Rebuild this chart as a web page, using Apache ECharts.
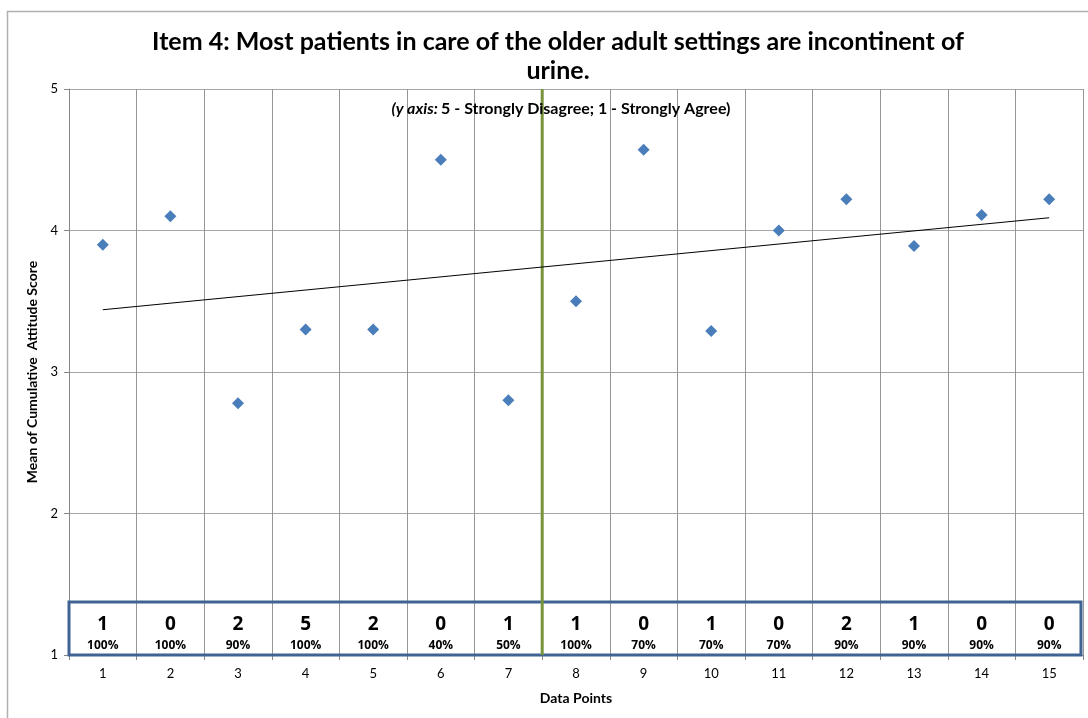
<!DOCTYPE html>
<html><head><meta charset="utf-8">
<script src="https://cdn.jsdelivr.net/npm/echarts@6/dist/echarts.min.js"></script>
<style>html,body{margin:0;padding:0;background:#fff}#c{width:1088px;height:718px}</style>
</head><body><div id="c"></div>
<script>
const categories = ['1','2','3','4','5','6','7','8','9','10','11','12','13','14','15'];
const scores = [3.90,4.10,2.78,3.30,3.30,4.50,2.80,3.50,4.57,3.29,4.00,4.22,3.89,4.11,4.22];
const counts = [1,0,2,5,2,0,1,1,0,1,0,2,1,0,0];
const percents = ['100%','100%','90%','100%','100%','40%','50%','100%','70%','70%','70%','90%','90%','90%','90%'];
const trendX = [1, 15];
const trendY = [3.44, 4.09];
const phaseChangeX = 7.5;
const boxRange = {x0: 0.5, x1: 15.47, y0: 1.0, y1: 1.375};
const countLabelY = 1.215;
const percentLabelY = 1.065;
const yTicks = [1,2,3,4,5];

const FONT = 'Lato, "Open Sans", sans-serif';
const BOXFONT = '"Open Sans", Lato, sans-serif';
const chart = echarts.init(document.getElementById('c'), null, {renderer:'canvas'});
const grid = {left:69, right:5, top:89, bottom:63};

function textItem(fontSize, yVal, getText){
  return function(params, api){
    const p = api.coord([api.value(0), yVal]);
    return {type:'text', x:p[0], y:p[1], style:{text:getText(api), fill:'#000', font:'bold '+fontSize+'px '+BOXFONT, textAlign:'center', textVerticalAlign:'middle'}};
  };
}

chart.setOption({
  animation:false,
  backgroundColor:'#fff',
  textStyle:{fontFamily:FONT},
  graphic:[
    {type:'rect', shape:{x:7.5,y:11.5,width:1090,height:720}, style:{fill:'none',stroke:'#B0B0B0',lineWidth:1.5}, silent:true},
    {type:'text', x:558, y:27, style:{text:'Item 4: Most patients in care of the older adult settings are incontinent of\nurine.', font:'bold 25px '+FONT, fill:'#000', textAlign:'center', lineHeight:29}},
    {type:'text', x:561, y:101, z:10, style:{
      text:'{bi|(y axis:} {b|5 - Strongly Disagree; 1 - Strongly Agree)}',
      textAlign:'center',
      rich:{bi:{fontFamily:FONT, fontStyle:'italic', fontWeight:'bold', fontSize:16, fill:'#000'}, b:{fontFamily:FONT, fontWeight:'bold', fontSize:16, fill:'#000'}}
    }}
  ],
  grid:grid,
  xAxis:[
    {type:'category', data:categories, boundaryGap:true, position:'bottom',
     axisLine:{show:true, lineStyle:{color:'#868686'}},
     axisTick:{show:true, inside:false, length:5, alignWithLabel:false, lineStyle:{color:'#868686'}},
     axisLabel:{color:'#000', fontSize:13, margin:12, fontFamily:FONT},
     splitLine:{show:true, lineStyle:{color:'#969696', width:1}},
     name:'Data Points', nameLocation:'middle', nameGap:36,
     nameTextStyle:{fontWeight:'bold', fontSize:14, color:'#000', fontFamily:FONT}},
    {type:'value', min:0.5, max:15.5, show:false}
  ],
  yAxis:[{
    type:'value', min:1, max:5, interval:1,
    axisLine:{show:true, lineStyle:{color:'#868686'}},
    axisTick:{show:true, length:5, lineStyle:{color:'#868686'}},
    axisLabel:{color:'#000', fontSize:13, margin:11, fontFamily:FONT, formatter:v=>yTicks.includes(v)?String(v):''},
    splitLine:{show:true, lineStyle:{color:'#a6a6a6', width:1}},
    name:'Mean of Cumulative  Attitude Score', nameLocation:'middle', nameGap:29, nameRotate:90,
    nameTextStyle:{fontWeight:'bold', fontSize:14, color:'#000', fontFamily:FONT}
  }],
  series:[
    {type:'line', xAxisIndex:1, data:[[phaseChangeX,1],[phaseChangeX,5]], symbol:'none',
     lineStyle:{color:'#77933C', width:3}, z:4, silent:true},
    {type:'line', xAxisIndex:1, data:trendX.map((x,i)=>[x,trendY[i]]), symbol:'none',
     lineStyle:{color:'#000', width:1}, z:5, silent:true},
    {type:'scatter', xAxisIndex:1, data:scores.map((v,i)=>[i+1,v]), symbol:'diamond', symbolSize:12,
     itemStyle:{color:'#4A7EBB', opacity:1}, z:6},
    {type:'scatter', xAxisIndex:1, data:[], z:7,
     markArea:{silent:true, itemStyle:{color:'rgba(0,0,0,0)', borderColor:'#3F6494', borderWidth:3},
       data:[[{coord:[boxRange.x0, boxRange.y1]},{coord:[boxRange.x1, boxRange.y0]}]]}},
    {type:'custom', xAxisIndex:1, data:counts.map((c,i)=>[i+1,c]), z:8, silent:true,
     renderItem:textItem(19, countLabelY, api=>String(api.value(1)))},
    {type:'custom', xAxisIndex:1, data:percents.map((c,i)=>[i+1,i]), z:8, silent:true,
     renderItem:textItem(12, percentLabelY, api=>percents[api.value(1)])}
  ]
});
</script></body></html>
